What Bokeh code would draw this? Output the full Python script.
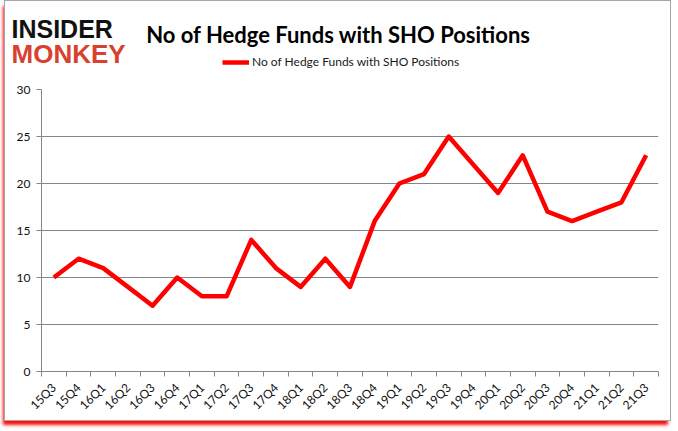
import math
from bokeh.plotting import figure
from bokeh.layouts import column
from bokeh.models import (FixedTicker, Label, Legend, LegendItem, Range1d)
from bokeh.embed import file_html
from bokeh.resources import INLINE

quarters = ["15Q3", "15Q4", "16Q1", "16Q2", "16Q3", "16Q4", "17Q1", "17Q2", "17Q3",
            "17Q4", "18Q1", "18Q2", "18Q3", "18Q4", "19Q1", "19Q2", "19Q3", "19Q4",
            "20Q1", "20Q2", "20Q3", "20Q4", "21Q1", "21Q2", "21Q3"]
funds = [10, 12, 11, 9, 7, 10, 8, 8, 14, 11, 9, 12, 9, 16, 20, 21, 25, 22,
         19, 23, 17, 16, 17, 18, 23]
y_ticks = [0, 5, 10, 15, 20, 25, 30]
title_text = "No of Hedge Funds with SHO Positions"
series_name = "No of Hedge Funds with SHO Positions"

LINE_COLOR = "#ff0000"
LINE_WIDTH = 4.5

n = len(quarters)
xs = list(range(n))

W = 665
HEAD_H = 78          # page y 1 .. 79
MAIN_H = 341         # page y 79 .. 420

# ---------------- header (logo, title, legend) ----------------
head = figure(width=W, height=HEAD_H, output_backend="svg", toolbar_location=None,
              x_range=Range1d(0, W), y_range=Range1d(0, HEAD_H),
              x_axis_type=None, y_axis_type=None, min_border=0,
              min_border_left=0, min_border_right=0, min_border_top=0,
              min_border_bottom=0)
head.frame_align = False
head.outline_line_color = None
head.xgrid.visible = False
head.ygrid.visible = False
head.background_fill_color = "white"
head.border_fill_color = "white"

# page (X, Y) -> header coordinates (header starts at page x 5, ends at page y 79)
def hx(X):
    return X - 5

def hy(Y):
    return 79 - Y

head.add_layout(Label(x=hx(338), y=hy(34), text=title_text, text_align="center",
                      text_baseline="alphabetic", text_font="Lato",
                      text_font_style="bold", text_font_size="22px",
                      text_color="#000000"))
head.add_layout(Label(x=hx(11), y=hy(28), text="INSIDER", text_align="left",
                      text_baseline="alphabetic", text_font="Liberation Sans",
                      text_font_style="bold", text_font_size="25px",
                      text_color="#111111"))
head.add_layout(Label(x=hx(11), y=hy(53), text="MONKEY", text_align="left",
                      text_baseline="alphabetic", text_font="Liberation Sans",
                      text_font_style="bold", text_font_size="26px",
                      text_color="#d8412f"))

# legend swatch: the same series mapped onto a range that lies outside the header
head.extra_y_ranges = {"offstage": Range1d(-1000, -900)}
swatch = head.line(xs, funds, y_range_name="offstage",
                   line_color=LINE_COLOR, line_width=LINE_WIDTH)
legend = Legend(items=[LegendItem(label=series_name, renderers=[swatch])],
                location=(hx(222), hy(69)), orientation="horizontal",
                padding=0, margin=0, spacing=0, glyph_width=27, glyph_height=14,
                label_standoff=3, label_height=14, label_text_font="Lato",
                label_text_font_size="12px", label_text_color="#1a1a1a",
                border_line_color=None, background_fill_alpha=0)
head.add_layout(legend, "center")

# ---------------- main chart ----------------
p = figure(width=W, height=MAIN_H, output_backend="svg", toolbar_location=None,
           x_range=Range1d(-0.5, n - 0.5), y_range=Range1d(0, 30),
           min_border_left=36, min_border_right=12, min_border_top=10,
           min_border_bottom=49)
p.outline_line_color = None
p.background_fill_color = "white"
p.border_fill_color = "white"

p.line(xs, funds, line_color=LINE_COLOR, line_width=LINE_WIDTH, line_join="round")

# x axis: labels at category centres, ticks at category boundaries
p.xaxis.ticker = FixedTicker(ticks=xs, minor_ticks=[i - 0.5 for i in range(n + 1)])
p.xaxis.major_label_overrides = {i: q for i, q in enumerate(quarters)}
p.xaxis.major_label_orientation = math.pi / 4
p.xaxis.major_tick_out = 0
p.xaxis.major_tick_in = 0
p.xaxis.minor_tick_out = 5
p.xaxis.minor_tick_in = 0
p.xaxis.minor_tick_line_color = "#868686"
p.xaxis.axis_line_color = "#868686"
p.xaxis.major_label_standoff = 9
p.xaxis.major_label_text_font = "Lato"
p.xaxis.major_label_text_font_size = "12px"
p.xaxis.major_label_text_color = "#111111"

p.yaxis.ticker = FixedTicker(ticks=y_ticks)
p.yaxis.minor_tick_line_color = None
p.yaxis.major_tick_out = 5
p.yaxis.major_tick_in = 0
p.yaxis.major_tick_line_color = "#868686"
p.yaxis.axis_line_color = "#868686"
p.yaxis.major_label_standoff = 6
p.yaxis.major_label_text_font = "Lato"
p.yaxis.major_label_text_font_size = "12px"
p.yaxis.major_label_text_color = "#111111"

p.xgrid.grid_line_color = None
p.ygrid.ticker = FixedTicker(ticks=y_ticks)
p.ygrid.grid_line_color = "#868686"
p.ygrid.grid_line_width = 1

layout = column(head, p, spacing=0)
layout.styles = {"margin-top": "1px", "margin-left": "5px",
                 "box-shadow": "0 0 0 1px #a6a6a6, -2px 5px 3px rgba(255,0,0,0.95)"}

open("out.html", "w").write(file_html(layout, INLINE))
